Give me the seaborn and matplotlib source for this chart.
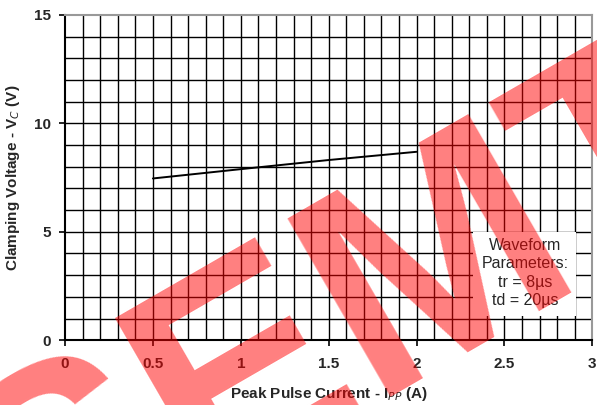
import numpy as np
import pandas as pd
import matplotlib
matplotlib.use("Agg")
import matplotlib.pyplot as plt
import seaborn as sns

# Values
current = [0.5, 1.0, 1.5, 2.0]
clamp_voltage = [7.46, 7.89, 8.31, 8.69]
x_ticks = [0, 0.5, 1, 1.5, 2, 2.5, 3]
y_ticks = [0, 5, 10, 15]
note_lines = ["Waveform", "Parameters:", "tr = 8\u00b5s", "td = 20\u00b5s"]

df = pd.DataFrame({"Ipp": current, "Vc": clamp_voltage})

sns.set_style("white")
plt.rcParams['font.family'] = ['Liberation Sans', 'DejaVu Sans']
plt.rcParams['mathtext.fontset'] = 'custom'
plt.rcParams['mathtext.rm'] = 'Liberation Sans:bold'
plt.rcParams['mathtext.bf'] = 'Liberation Sans:bold'

fig = plt.figure(figsize=(5.97, 4.05), dpi=100)
ax = fig.add_axes([0.109, 0.160, 0.883, 0.803])

# Grid: every 0.1 A and every 1 V
for xv in np.arange(0.1, 3.0, 0.1):
    ax.axvline(xv, color='black', lw=1.0, zorder=1)
for yv in range(1, 15):
    ax.axhline(yv, color='black', lw=1.0, zorder=1)

sns.lineplot(data=df, x="Ipp", y="Vc", color='black', lw=1.4, ax=ax, zorder=3)

ax.set_xlim(0, 3)
ax.set_ylim(0, 15)
ax.set_xticks(x_ticks)
ax.set_xticklabels([f"{t:g}" for t in x_ticks])
ax.set_yticks(y_ticks)
ax.tick_params(axis='both', direction='out', length=4, width=1.2, color='black',
               labelsize=11, bottom=True, left=True)
ax.tick_params(axis='x', pad=8)
ax.tick_params(axis='y', pad=6)
for lab in ax.get_yticklabels():
    lab.set_fontweight('bold')
for lab in ax.get_xticklabels():
    lab.set_fontweight('bold')

for s in ['left', 'bottom']:
    ax.spines[s].set_color('black')
    ax.spines[s].set_linewidth(1.5)
for s in ['top', 'right']:
    ax.spines[s].set_color('#999999')
    ax.spines[s].set_linewidth(1.5)

ax.set_xlabel(r"Peak Pulse Current - I$_{PP}$ (A)", fontsize=11, fontweight='bold', labelpad=10)
ax.set_ylabel(r"Clamping Voltage - V$_{C}$ (V)", fontsize=11, fontweight='bold', labelpad=9)

# Waveform note box
ax.add_patch(plt.Rectangle((2.32, 1.1), 0.59, 3.9, facecolor='white', edgecolor='none', zorder=4))
ax.text(2.62, 3.1, "\n".join(note_lines), ha='center', va='center', fontsize=11.5,
        linespacing=1.3, zorder=5)

# Watermark
fig.text(0.047, -0.485, "SEMTECH", color='red', alpha=0.5, fontsize=215, fontweight='bold',
         rotation=30, rotation_mode='anchor', ha='left', va='baseline', zorder=10)

fig.savefig("out.png", dpi=100)
